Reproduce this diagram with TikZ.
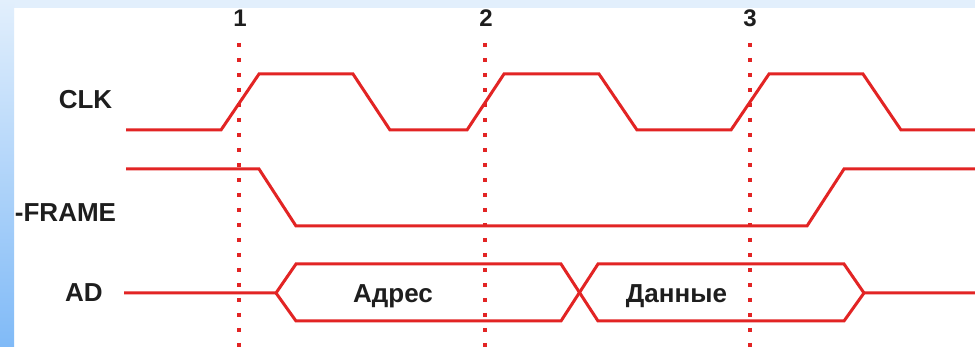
\documentclass[tikz,border=0pt]{standalone}
\usepackage{fontspec}
\setmainfont{Liberation Sans}
\definecolor{sig}{RGB}{226,36,36}
\definecolor{txt}{RGB}{30,30,30}
\definecolor{bandtop}{RGB}{226,239,252}
\definecolor{bandbot}{RGB}{128,186,247}
\begin{document}
\begin{tikzpicture}[x=1pt,y=-1pt,
  wave/.style={draw=sig,line width=3pt,line join=miter},
  marker/.style={draw=sig,line width=4pt,dash pattern=on 4pt off 11pt},
  lab/.style={font=\bfseries\fontsize{26}{30}\selectfont,text=txt,inner sep=0pt,anchor=base},
  num/.style={font=\bfseries\fontsize{24}{28}\selectfont,text=txt,inner sep=0pt,anchor=base}]
\useasboundingbox (0,0) rectangle (975,347);
\fill[white] (0,0) rectangle (975,347);
\fill[bandtop] (0,0) rectangle (975,8);
\shade[top color=bandtop,bottom color=bandbot] (0,0) rectangle (14,347);

% labels
\node[lab] (clk) at (85.5,109) {CLK};
\node[lab] (frame) at (65.5,222) {-FRAME};
\node[lab] (ad) at (84,302) {AD};
\node[lab] (adr) at (393,303) {Адрес};
\node[lab] (dat) at (676.5,303) {Данные};
\node[num] (n1) at (240,27) {1};
\node[num] (n2) at (486,27) {2};
\node[num] (n3) at (750,27) {3};

% CLK
\draw[wave] (126,130) -- (221,130) -- (259,74) -- (353,74) -- (390,130) -- (467,130) -- (504,74) -- (599,74) -- (637,130) -- (731,130) -- (769,74) -- (863,74) -- (901,130) -- (975,130);
% FRAME
\draw[wave] (126,169) -- (259,169) -- (296,226) -- (807,226) -- (844,169) -- (975,169);
% AD
\draw[wave] (124,293) -- (276,293) -- (296,264) -- (561,264) -- (598,321) -- (844,321) -- (864,293) -- (975,293);
\draw[wave] (276,293) -- (296,321) -- (561,321) -- (598,264) -- (844,264) -- (864,293);

% markers
\coordinate (m1t) at (239,43); \coordinate (m1b) at (239,347);
\coordinate (m2t) at (485,43); \coordinate (m2b) at (485,347);
\coordinate (m3t) at (750,43); \coordinate (m3b) at (750,347);
\draw[marker] (m1t) -- (m1b);
\draw[marker] (m2t) -- (m2b);
\draw[marker] (m3t) -- (m3b);
\end{tikzpicture}
\end{document}
